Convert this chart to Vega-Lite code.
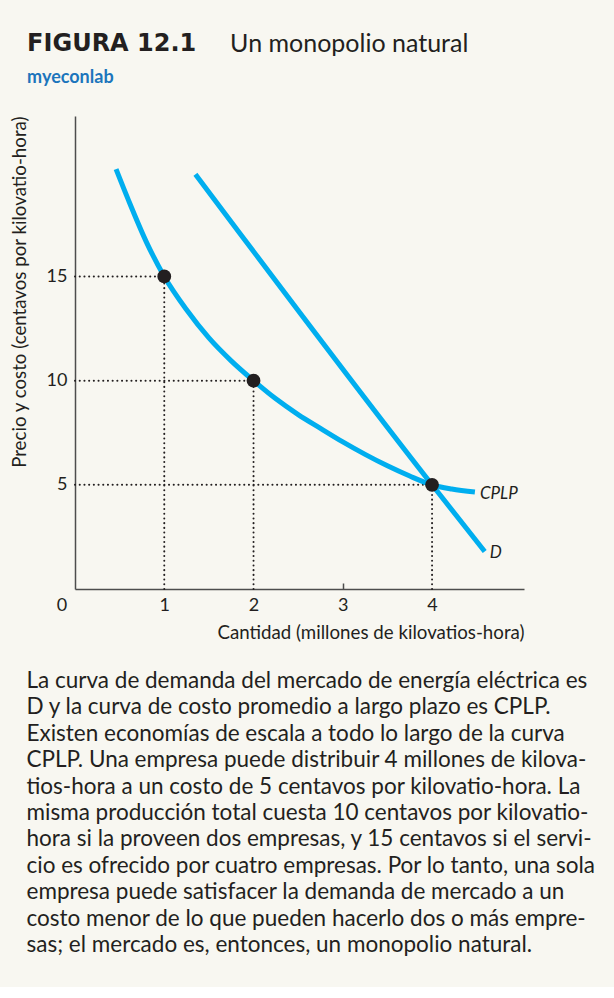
{
  "$schema": "https://vega.github.io/schema/vega-lite/v6.json",
  "background": "#f8f7f1",
  "padding": {"left": 10, "top": 32, "right": 20, "bottom": 30},
  "config": {
    "font": "Lato",
    "view": {"stroke": null},
    "concat": {"spacing": 28},
    "title": {"color": "#231f20"},
    "axis": {
      "grid": false,
      "domainColor": "#4d4d4d",
      "domainWidth": 1.5,
      "labelColor": "#231f20",
      "labelFontSize": 18,
      "titleColor": "#231f20",
      "titleFontSize": 18.7,
      "titleFontWeight": "normal"
    }
  },
  "datasets": {
    "curves": [
      {"curve": "CPLP", "q": 0.46, "p": 20.15},
      {"curve": "CPLP", "q": 0.6, "p": 18.65},
      {"curve": "CPLP", "q": 0.8, "p": 16.65},
      {"curve": "CPLP", "q": 1.0, "p": 15.0},
      {"curve": "CPLP", "q": 1.25, "p": 13.4},
      {"curve": "CPLP", "q": 1.5, "p": 12.05},
      {"curve": "CPLP", "q": 1.75, "p": 10.95},
      {"curve": "CPLP", "q": 2.0, "p": 10.0},
      {"curve": "CPLP", "q": 2.25, "p": 9.125},
      {"curve": "CPLP", "q": 2.5, "p": 8.37},
      {"curve": "CPLP", "q": 2.75, "p": 7.71},
      {"curve": "CPLP", "q": 3.0, "p": 7.06},
      {"curve": "CPLP", "q": 3.25, "p": 6.46},
      {"curve": "CPLP", "q": 3.5, "p": 5.91},
      {"curve": "CPLP", "q": 3.75, "p": 5.42},
      {"curve": "CPLP", "q": 4.0, "p": 5.0},
      {"curve": "CPLP", "q": 4.22, "p": 4.8},
      {"curve": "CPLP", "q": 4.48, "p": 4.65},
      {"curve": "D", "q": 1.35, "p": 19.9},
      {"curve": "D", "q": 4.0, "p": 5.0},
      {"curve": "D", "q": 4.59, "p": 1.8}
    ],
    "points": [
      {"q": 1, "p": 15, "q0": 0, "p0": 0},
      {"q": 2, "p": 10, "q0": 0, "p0": 0},
      {"q": 4, "p": 5, "q0": 0, "p0": 0}
    ],
    "labels": [
      {"curve": "CPLP", "q": 4.48, "p": 4.65},
      {"curve": "D", "q": 4.59, "p": 1.8}
    ],
    "caption": [
      {"line": 1, "text": "La curva de demanda del mercado de energía eléctrica es"},
      {"line": 2, "text": "D y la curva de costo promedio a largo plazo es CPLP."},
      {"line": 3, "text": "Existen economías de escala a todo lo largo de la curva"},
      {"line": 4, "text": "CPLP. Una empresa puede distribuir 4 millones de kilova-"},
      {"line": 5, "text": "tios-hora a un costo de 5 centavos por kilovatio-hora. La"},
      {"line": 6, "text": "misma producción total cuesta 10 centavos por kilovatio-"},
      {"line": 7, "text": "hora si la proveen dos empresas, y 15 centavos si el servi-"},
      {"line": 8, "text": "cio es ofrecido por cuatro empresas. Por lo tanto, una sola"},
      {"line": 9, "text": "empresa puede satisfacer la demanda de mercado a un"},
      {"line": 10, "text": "costo menor de lo que pueden hacerlo dos o más empre-"},
      {"line": 11, "text": "sas; el mercado es, entonces, un monopolio natural."}
    ]
  },
  "title": {
    "text": "Un monopolio natural",
    "anchor": "start",
    "frame": "bounds",
    "fontSize": 25,
    "fontWeight": "normal",
    "dx": 220,
    "dy": 29
  },
  "vconcat": [
    {
      "title": {
        "text": "FIGURA 12.1",
        "subtitle": "myeconlab",
        "anchor": "start",
        "frame": "bounds",
        "dx": 17,
        "font": "DejaVu Sans",
        "fontSize": 24,
        "fontWeight": "bold",
        "subtitleFont": "Lato",
        "subtitleColor": "#1c75bc",
        "subtitleFontWeight": "bold",
        "subtitleFontSize": 18,
        "subtitlePadding": 13,
        "offset": 29
      },
      "width": 449,
      "height": 473,
      "layer": [
        {
          "data": {"name": "points"},
          "mark": {"type": "rule", "strokeDash": [0.1, 4.6], "strokeCap": "round", "strokeWidth": 2, "color": "#231f20"},
          "encoding": {
            "x": {"field": "q0", "type": "quantitative"},
            "x2": {"field": "q"},
            "y": {"field": "p", "type": "quantitative"}
          }
        },
        {
          "data": {"name": "points"},
          "mark": {"type": "rule", "strokeDash": [0.1, 4.6], "strokeCap": "round", "strokeWidth": 2, "color": "#231f20"},
          "encoding": {
            "x": {"field": "q", "type": "quantitative"},
            "y": {"field": "p0", "type": "quantitative"},
            "y2": {"field": "p"}
          }
        },
        {
          "data": {"name": "curves"},
          "mark": {"type": "line", "interpolate": "monotone", "strokeWidth": 5, "color": "#00aeef", "strokeCap": "butt"},
          "encoding": {
            "x": {
              "field": "q", "type": "quantitative",
              "scale": {"domain": [0, 5.03], "nice": false, "zero": false},
              "axis": {
                "title": "Cantidad (millones de kilovatios-hora)",
                "titleAnchor": "end",
                "titlePadding": 9,
                "values": [0, 1, 2, 3, 4],
                "format": "d",
                "labelFlush": false,
                "labelPadding": 13,
                "labelOffset": {"condition": {"test": "datum.value === 0", "value": -13.5}, "value": 0},
                "ticks": true,
                "tickSize": -6,
                "tickWidth": 1.5,
                "tickColor": "#4d4d4d",
                "tickOpacity": {"condition": {"test": "datum.value === 3", "value": 1}, "value": 0}
              }
            },
            "y": {
              "field": "p", "type": "quantitative",
              "scale": {"domain": [0, 22.7], "nice": false, "zero": false},
              "axis": {
                "title": "Precio y costo (centavos por kilovatio-hora)",
                "titleAnchor": "end",
                "titlePadding": 17,
                "values": [5, 10, 15],
                "format": "d",
                "labelPadding": 8,
                "ticks": false
              }
            },
            "detail": {"field": "curve"}
          }
        },
        {
          "data": {"name": "points"},
          "mark": {"type": "point", "filled": true, "size": 190, "opacity": 1, "color": "#231f20"},
          "encoding": {
            "x": {"field": "q", "type": "quantitative"},
            "y": {"field": "p", "type": "quantitative"}
          }
        },
        {
          "data": {"name": "labels"},
          "mark": {"type": "text", "align": "left", "baseline": "middle", "fontStyle": "italic", "fontSize": 17, "dx": 5, "dy": 2, "color": "#231f20"},
          "encoding": {
            "x": {"field": "q", "type": "quantitative"},
            "y": {"field": "p", "type": "quantitative"},
            "text": {"field": "curve"}
          }
        }
      ]
    },
    {
      "width": 449,
      "height": 264,
      "data": {"name": "caption"},
      "mark": {"type": "text", "align": "left", "baseline": "alphabetic", "fontSize": 22.5, "dx": -48.5, "color": "#231f20"},
      "encoding": {
        "x": {"datum": 0, "type": "quantitative", "scale": {"domain": [0, 1]}, "axis": null},
        "y": {"field": "line", "type": "ordinal", "axis": null, "scale": {"type": "point", "padding": 0}},
        "text": {"field": "text"}
      }
    }
  ]
}
